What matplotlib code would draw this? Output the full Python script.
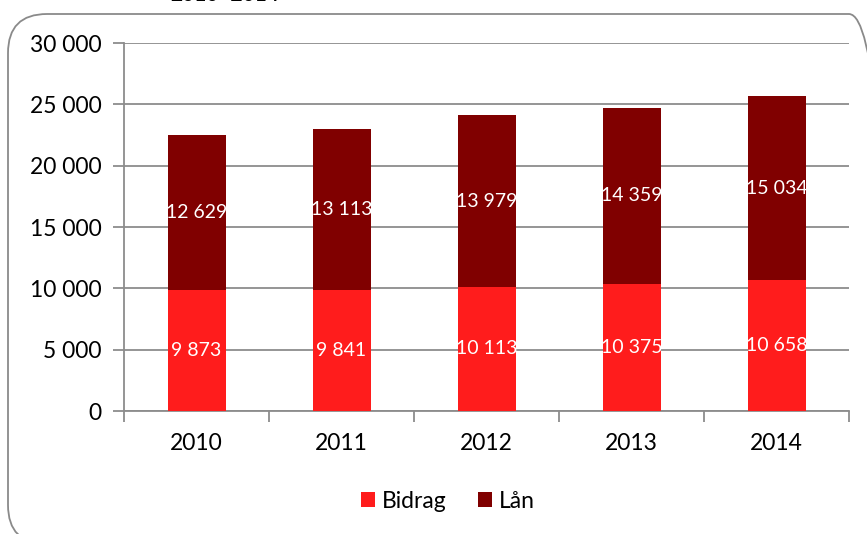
import matplotlib
matplotlib.use("Agg")
import matplotlib.pyplot as plt
import numpy as np
from matplotlib.patches import FancyBboxPatch

plt.rcParams["font.family"] = ["Lato", "DejaVu Sans"]

years = ["2010", "2011", "2012", "2013", "2014"]
bidrag = [9873, 9841, 10113, 10375, 10658]
laan = [12629, 13113, 13979, 14359, 15034]
yticks = [0, 5000, 10000, 15000, 20000, 25000, 30000]

RED = "#FF1C1C"
DARK = "#800000"
GRID = "#8C8C8C"


def fmt(v):
    return f"{v:,}".replace(",", " ")


W, H = 867, 534
fig = plt.figure(figsize=(W / 100, H / 100), dpi=100)
fig.patch.set_facecolor("white")

# ram runt diagrammet (rundade hörn, höger/under beskurna)
frame = FancyBboxPatch((8 / W, -10 / H), 880 / W, (H - 14 + 10) / H,
                       boxstyle="round,pad=0,rounding_size=0.045",
                       transform=fig.transFigure, facecolor="none",
                       edgecolor="#8A8A8A", linewidth=1.3, clip_on=False,
                       mutation_aspect=W / H)
fig.patches.append(frame)

# titelrest ovanför (beskuren i originalet)
fig.text(225 / W, 1 + 5 / H, "2010–2014", ha="center", va="center",
         fontsize=15, fontweight="bold", color="black")

ax = fig.add_axes([124 / W, 1 - 411 / H, (849 - 124) / W, (411 - 43) / H])
x = np.arange(len(years))
ax.bar(x, bidrag, width=0.4, color=RED, label="Bidrag", zorder=3)
ax.bar(x, laan, width=0.4, bottom=bidrag, color=DARK, label="Lån", zorder=3)

for i in range(len(years)):
    ax.text(x[i], bidrag[i] / 2, fmt(bidrag[i]), ha="center", va="center",
            color="white", fontsize=14, zorder=4)
    ax.text(x[i], bidrag[i] + laan[i] / 2, fmt(laan[i]), ha="center",
            va="center", color="white", fontsize=14, zorder=4)

ax.set_xlim(-0.5, len(years) - 0.5)
ax.set_ylim(0, 30000)
ax.set_yticks(yticks)
ax.set_yticklabels([fmt(v) for v in yticks], fontsize=16.5)
ax.set_xticks(x)
ax.set_xticklabels(years, fontsize=16.5)
ax.tick_params(axis="x", length=0, pad=16)
ax.set_xticks(np.arange(-0.5, len(years), 1), minor=True)
ax.tick_params(axis="x", which="minor", length=8, color=GRID, width=1.3, direction="out")
ax.tick_params(axis="y", length=8, color=GRID, width=1.3, pad=8)

ax.grid(axis="y", color=GRID, linewidth=1.3, zorder=0)
for s in ["top", "right"]:
    ax.spines[s].set_visible(False)
ax.spines["left"].set_color(GRID)
ax.spines["bottom"].set_color(GRID)
ax.spines["left"].set_linewidth(1.3)
ax.spines["bottom"].set_linewidth(1.3)

leg = fig.legend(loc="center", bbox_to_anchor=(448 / W, 1 - 501 / H), ncol=2,
                 frameon=False, fontsize=16.5, handlelength=0.6, handleheight=0.6,
                 handletextpad=0.3, columnspacing=1.4)

fig.savefig("out.png", dpi=100, facecolor="white")
